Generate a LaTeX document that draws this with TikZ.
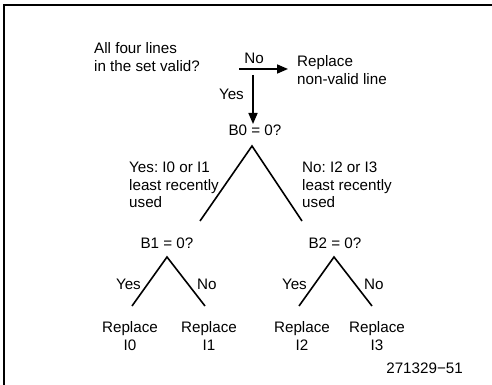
\documentclass[tikz,border=0pt]{standalone}
\usepackage{fontspec}
\setmainfont{Liberation Sans}
\frenchspacing
\usetikzlibrary{positioning,arrows.meta}
\tikzset{
    lrutext/.style={inner sep=0pt, align=left, font=\fontsize{15.2}{17.5}\selectfont},
    lrucenter/.style={inner sep=0pt, align=center, font=\fontsize{15.2}{17.5}\selectfont},
    lruline/.style={draw, line width=1.6pt},
    lruarrow/.style={draw, line width=1.6pt, -{Triangle[length=11pt, width=9pt]}},
    lruframe/.style={draw, line width=1.4pt}
}

\begin{document}
\begin{tikzpicture}[x=1pt, y=-1pt]
    \useasboundingbox[fill=white] (0,0) rectangle (492,385);
    \draw[lruframe] (4,385) -- (4,5) -- (492,5);

    % first test: all lines valid?
    \node[lrutext, anchor=west] (valid) at (94,57) {All four lines\\in the set valid?};
    \node[lrutext, anchor=west] (nonvalid) at (297,70) {Replace\\non-valid line};
    \coordinate (nostart) at (239,69);
    \coordinate (noend) at (288,69);
    \draw[lruarrow] (nostart) -- (noend);
    \node[lrucenter] (nolbl) at (254,58) {No};
    \coordinate (yesstart) at (253,75);
    \node[lrucenter] (b0) at (255,130) {B0 = 0?};
    \coordinate (yesend) at (253,124);
    \draw[lruarrow] (yesstart) -- (yesend);
    \node[lrutext, anchor=east] (yeslbl) at (244,94) {Yes};

    % B0 split
    \coordinate (b0top) at (252,146);
    \coordinate (b0left) at (200,221);
    \coordinate (b0right) at (302,221);
    \draw[lruline] (b0left) -- (b0top) -- (b0right);
    \node[lrutext, anchor=west] (lrulow) at (129,185) {Yes: I0 or I1\\least recently\\used};
    \node[lrutext, anchor=west] (lruhigh) at (302,185) {No: I2 or I3\\least recently\\used};

    % second level
    \node[lrucenter] (b1) at (167,243) {B1 = 0?};
    \node[lrucenter] (b2) at (335,243) {B2 = 0?};
    \foreach \b/\x in {b1/167, b2/334} {
        \coordinate (\b top) at (\x,257);
        \coordinate (\b left) at (\x-35,306);
        \coordinate (\b right) at (\x+38,306);
        \draw[lruline] (\b left) -- (\b top) -- (\b right);
    }
    \node[lrutext, anchor=east] (b1yes) at (141,284) {Yes};
    \node[lrutext, anchor=west] (b1no) at (197,284) {No};
    \node[lrutext, anchor=east] (b2yes) at (307,284) {Yes};
    \node[lrutext, anchor=west] (b2no) at (364,284) {No};

    % leaves
    \node[lrucenter] (repl0) at (130,336) {Replace\\I0};
    \node[lrucenter] (repl1) at (209,336) {Replace\\I1};
    \node[lrucenter] (repl2) at (302,336) {Replace\\I2};
    \node[lrucenter] (repl3) at (377,336) {Replace\\I3};

    \node[lrutext, anchor=east] (figno) at (463,368) {271329−51};
\end{tikzpicture}
\end{document}
